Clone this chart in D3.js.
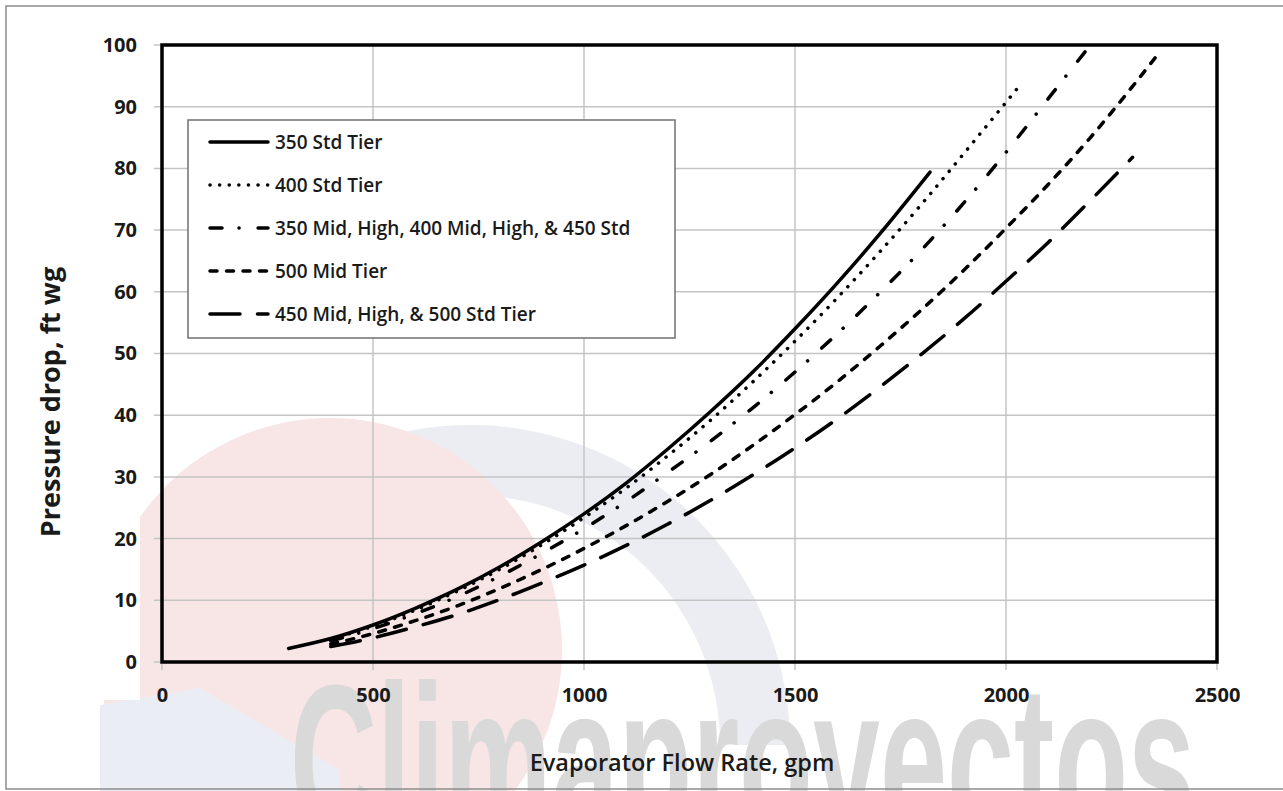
<!DOCTYPE html>
<html>
  <head>
    <title>Evaporator pressure drop</title>
    <script src="https://cdn.jsdelivr.net/npm/d3@7"></script>
    <style>
      body { margin: 0; background: #fff; }
      text { font-family: "Open Sans", sans-serif; font-weight: 600; fill: #1a1a1a; }
      .grid line { stroke: #c4c4c4; stroke-width: 1.5; }
      .curve { fill: none; stroke: #000; stroke-width: 3.5; stroke-linecap: round; }
    </style>
  </head>
  <body>
    <svg id="chart" width="1283" height="791"></svg>
  <script>
    // flow rate (gpm) -> pressure drop (ft wg)
    const flow350Std = [300, 400, 500, 600, 700, 800, 900, 1000, 1100, 1200, 1300, 1400, 1500, 1600, 1700, 1820];
    const dp350Std   = [2.2, 3.8, 6.0, 8.7, 11.8, 15.4, 19.5, 24.0, 29.0, 34.6, 40.6, 47.0, 54.0, 61.4, 69.3, 79.4];

    const flow400Std = [400, 500, 600, 700, 800, 900, 1000, 1100, 1200, 1300, 1400, 1500, 1600, 1700, 1800, 1900, 2025];
    const dp400Std   = [3.7, 5.8, 8.4, 11.5, 15.0, 19.0, 23.4, 28.2, 33.5, 39.2, 45.4, 52.0, 59.0, 66.4, 74.2, 82.4, 92.8];

    const flowMix = [400, 500, 600, 700, 800, 900, 1000, 1100, 1200, 1300, 1400, 1500, 1600, 1700, 1800, 1900, 2000, 2100, 2200];
    const dpMix   = [3.4, 5.4, 7.8, 10.6, 13.9, 17.6, 21.6, 26.0, 30.8, 35.8, 41.2, 47.0, 53.2, 59.8, 66.8, 74.4, 82.6, 91.3, 100];

    const flow500Mid = [400, 500, 600, 700, 800, 900, 1000, 1100, 1200, 1300, 1400, 1500, 1600, 1700, 1800, 1900, 2000, 2100, 2200, 2300, 2360];
    const dp500Mid   = [2.9, 4.6, 6.7, 9.1, 11.9, 15.0, 18.4, 22.1, 26.1, 30.4, 35.1, 40.1, 45.4, 51.1, 57.1, 63.5, 70.3, 77.4, 85.0, 93.3, 98.5];

    const flow450Mid = [400, 500, 600, 700, 800, 900, 1000, 1100, 1200, 1300, 1400, 1500, 1600, 1700, 1800, 1900, 2000, 2100, 2200, 2300];
    const dp450Mid   = [2.5, 3.9, 5.7, 7.7, 10.1, 12.8, 15.7, 18.9, 22.4, 26.2, 30.3, 34.7, 39.4, 44.5, 49.9, 55.6, 61.7, 68.0, 74.8, 81.8];

    const seriesNames = [
      "350 Std Tier",
      "400 Std Tier",
      "350 Mid, High, 400 Mid, High, & 450 Std",
      "500 Mid Tier",
      "450 Mid, High, & 500 Std Tier"
    ];
    const xTicks = [0, 500, 1000, 1500, 2000, 2500];
    const yTicks = [0, 10, 20, 30, 40, 50, 60, 70, 80, 90, 100];

    const series = [
      { name: seriesNames[0], flow: flow350Std, dp: dp350Std, dash: null },
      { name: seriesNames[1], flow: flow400Std, dp: dp400Std, dash: "0.1,9.5" },
      { name: seriesNames[2], flow: flowMix, dp: dpMix, dash: "12,17,0.1,19" },
      { name: seriesNames[3], flow: flow500Mid, dp: dp500Mid, dash: "7,9.5" },
      { name: seriesNames[4], flow: flow450Mid, dp: dp450Mid, dash: "30,17.5" }
    ];

    const svg = d3.select("#chart");
    const plotLeft = 162, plotTop = 45, plotW = 1055, plotH = 617;

    // faint logo watermark in the background
    const wm = svg.append("g").attr("class", "watermark");
    wm.append("path")
      .attr("transform", "translate(470,745)")
      .attr("d", d3.arc()({ innerRadius: 250, outerRadius: 320, startAngle: -0.5, endAngle: Math.PI / 2 }))
      .attr("fill", "#ecedf3");
    wm.append("circle").attr("cx", 330).attr("cy", 650).attr("r", 232).attr("fill", "#f8e6e6");
    wm.append("path").attr("d", "M100,791 L100,705 L200,688 L340,770 L340,791 Z").attr("fill", "#eaedf4");
    wm.append("rect").attr("x", 0).attr("y", 0).attr("width", 140).attr("height", 700).attr("fill", "#fff");
    wm.append("text")
      .attr("x", 290).attr("y", 835)
      .attr("textLength", 905).attr("lengthAdjust", "spacingAndGlyphs")
      .style("font-family", "'Liberation Sans Narrow', 'Liberation Sans', sans-serif")
      .style("font-weight", 700).style("font-size", "215px").style("fill", "#d9d9d9")
      .text("Climaproyectos");
    wm.append("rect").attr("x", 1217).attr("y", 670).attr("width", 66).attr("height", 121).attr("fill", "#fff");

    // outer frame
    svg.append("rect").attr("x", 6).attr("y", 6).attr("width", 1300).attr("height", 783)
      .attr("fill", "none").attr("stroke", "#8c8c8c").attr("stroke-width", 1.5);

    const x = d3.scaleLinear().domain([0, 2500]).range([plotLeft, plotLeft + plotW]);
    const y = d3.scaleLinear().domain([0, 100]).range([plotTop + plotH, plotTop]);

    // grid
    const grid = svg.append("g").attr("class", "grid");
    grid.selectAll(".gx").data(xTicks).join("line")
      .attr("x1", d => x(d)).attr("x2", d => x(d)).attr("y1", plotTop).attr("y2", plotTop + plotH + 8);
    grid.selectAll(".gy").data(yTicks).join("line")
      .attr("y1", d => y(d)).attr("y2", d => y(d)).attr("x1", plotLeft - 8).attr("x2", plotLeft + plotW);

    // axes labels (d3 axes, with domain and tick lines hidden)
    const xAxis = svg.append("g")
      .attr("transform", `translate(0, ${plotTop + plotH})`)
      .call(d3.axisBottom(x).tickValues(xTicks).tickSize(0).tickPadding(26).tickFormat(d3.format("d")));
    const yAxis = svg.append("g")
      .attr("transform", `translate(${plotLeft}, 0)`)
      .call(d3.axisLeft(y).tickValues(yTicks).tickSize(0).tickPadding(25).tickFormat(d3.format("d")));
    [xAxis, yAxis].forEach(a => {
      a.select(".domain").remove();
      a.selectAll("text").style("font-size", "20px").style("font-weight", 700)
        .style("font-family", "'Open Sans', sans-serif").attr("fill", "#1a1a1a");
    });

    // curves
    const line = d3.line().x(d => x(d[0])).y(d => y(d[1])).curve(d3.curveMonotoneX);
    svg.append("g").selectAll("path").data(series).join("path")
      .attr("class", "curve")
      .attr("d", s => line(d3.zip(s.flow, s.dp)))
      .attr("stroke-dasharray", s => s.dash);

    // plot frame
    svg.append("rect").attr("x", plotLeft).attr("y", plotTop).attr("width", plotW).attr("height", plotH)
      .attr("fill", "none").attr("stroke", "#000").attr("stroke-width", 3.5);

    // legend
    const lg = svg.append("g").attr("transform", "translate(188,120)");
    lg.append("rect").attr("width", 487).attr("height", 218)
      .attr("fill", "#fff").attr("stroke", "#707070").attr("stroke-width", 1.5);
    const row = lg.selectAll(".row").data(series).join("g")
      .attr("transform", (d, i) => `translate(0, ${22 + i * 43})`);
    row.append("line").attr("class", "curve")
      .attr("x1", 22).attr("x2", 80).attr("y1", 0).attr("y2", 0)
      .attr("stroke-dasharray", s => s.dash);
    row.append("text").attr("x", 87).attr("y", 0).attr("dy", "0.36em")
      .style("font-size", "19px").text(s => s.name);

    // axis titles
    svg.append("text")
      .attr("x", 682).attr("y", 771).attr("text-anchor", "middle")
      .style("font-size", "23.5px").text("Evaporator Flow Rate, gpm");
    svg.append("text")
      .attr("transform", "translate(60,402) rotate(-90)").attr("text-anchor", "middle")
      .style("font-size", "27px").style("font-weight", 700).text("Pressure drop, ft wg");
  </script>
  </body>
</html>
